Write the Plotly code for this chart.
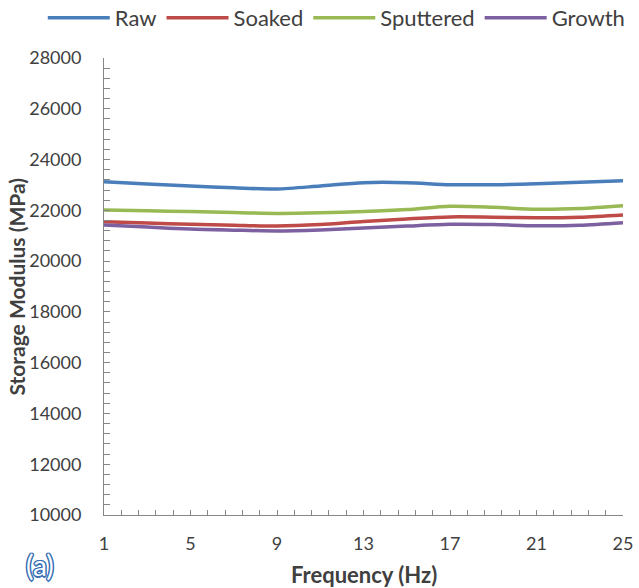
import plotly.graph_objects as go

freq = [1, 3, 5, 7, 9, 11, 13, 15, 17, 19, 21, 23, 25]
raw = [23130, 23040, 22960, 22890, 22840, 22960, 23090, 23090, 23010, 23010, 23050, 23110, 23170]
soaked = [21550, 21500, 21450, 21410, 21380, 21440, 21560, 21660, 21740, 21730, 21710, 21730, 21820]
sputtered = [22010, 21980, 21950, 21910, 21880, 21900, 21950, 22030, 22160, 22120, 22040, 22070, 22180]
growth = [21420, 21340, 21260, 21220, 21190, 21230, 21300, 21380, 21450, 21440, 21390, 21410, 21510]

series_names = ["Raw", "Soaked", "Sputtered", "Growth"]
series_vals = [raw, soaked, sputtered, growth]
colors = ["#4A7EBB", "#BE4B48", "#98B954", "#7D60A0"]

x_ticks = [1, 5, 9, 13, 17, 21, 25]
y_ticks = list(range(10000, 28001, 2000))

FONT = "Lato, 'Open Sans', sans-serif"
TXT = "#404040"
AX = "#868686"

fig = go.Figure()
for name, vals, c in zip(series_names, series_vals, colors):
    fig.add_trace(go.Scatter(x=freq, y=vals, name=name, mode="lines",
                             line=dict(color=c, width=3.5, shape="spline", smoothing=0.8)))

fig.update_layout(
    width=639, height=588,
    margin=dict(l=104, r=16, t=58, b=73, autoexpand=False),
    paper_bgcolor="white", plot_bgcolor="white",
    font=dict(family=FONT, color=TXT, size=18),
    showlegend=True,
    legend=dict(orientation="h", x=-0.118, xanchor="left", y=1.0875, yanchor="middle",
                font=dict(size=22, color=TXT), itemwidth=62, tracegroupgap=0,
                bgcolor="rgba(0,0,0,0)"),
    xaxis=dict(range=[1, 25], tickmode="array", tickvals=x_ticks,
               ticktext=[str(v) for v in x_ticks],
               showline=True, linecolor=AX, linewidth=1, mirror=False,
               ticks="inside", ticklen=5, tickcolor=AX, tickwidth=1,
               minor=dict(dtick=0.8, tick0=1, ticks="inside", ticklen=5, tickcolor=AX, tickwidth=1),
               showgrid=False, zeroline=False, ticklabelstandoff=12,
               tickfont=dict(size=18, color=TXT)),
    yaxis=dict(range=[10000, 28000], tickmode="array", tickvals=y_ticks,
               ticktext=[str(v) for v in y_ticks],
               showline=True, linecolor=AX, linewidth=1,
               ticks="inside", ticklen=6, tickcolor=AX, tickwidth=1,
               minor=dict(dtick=400, tick0=10000, ticks="inside", ticklen=6, tickcolor=AX, tickwidth=1),
               showgrid=False, zeroline=False, ticklabelstandoff=18,
               tickfont=dict(size=18, color=TXT)),
)

fig.add_annotation(text="<b>Storage Modulus (MPa)</b>", xref="paper", yref="paper",
                   x=-0.1695, y=0.5, xanchor="center", yanchor="middle", textangle=-90,
                   showarrow=False, font=dict(size=21, color=TXT, family=FONT))

fig.add_annotation(text="<b>Frequency (Hz)</b>", xref="paper", yref="paper",
                   x=0.5, y=-0.131, xanchor="center", yanchor="middle", borderpad=0,
                   showarrow=False, font=dict(size=22, color=TXT, family=FONT))

fig.add_annotation(text="(a)", xref="paper", yref="paper", x=-0.123, y=-0.109,
                   xanchor="center", yanchor="middle", showarrow=False,
                   font=dict(size=28, color="white", family=FONT,
                             shadow="1.5px 0 0 #3A6FB5, -1.5px 0 0 #3A6FB5, 0 1.5px 0 #3A6FB5, 0 -1.5px 0 #3A6FB5, 1px 1px 0 #3A6FB5, -1px -1px 0 #3A6FB5, 1px -1px 0 #3A6FB5, -1px 1px 0 #3A6FB5"))

fig.write_html("out.html")
